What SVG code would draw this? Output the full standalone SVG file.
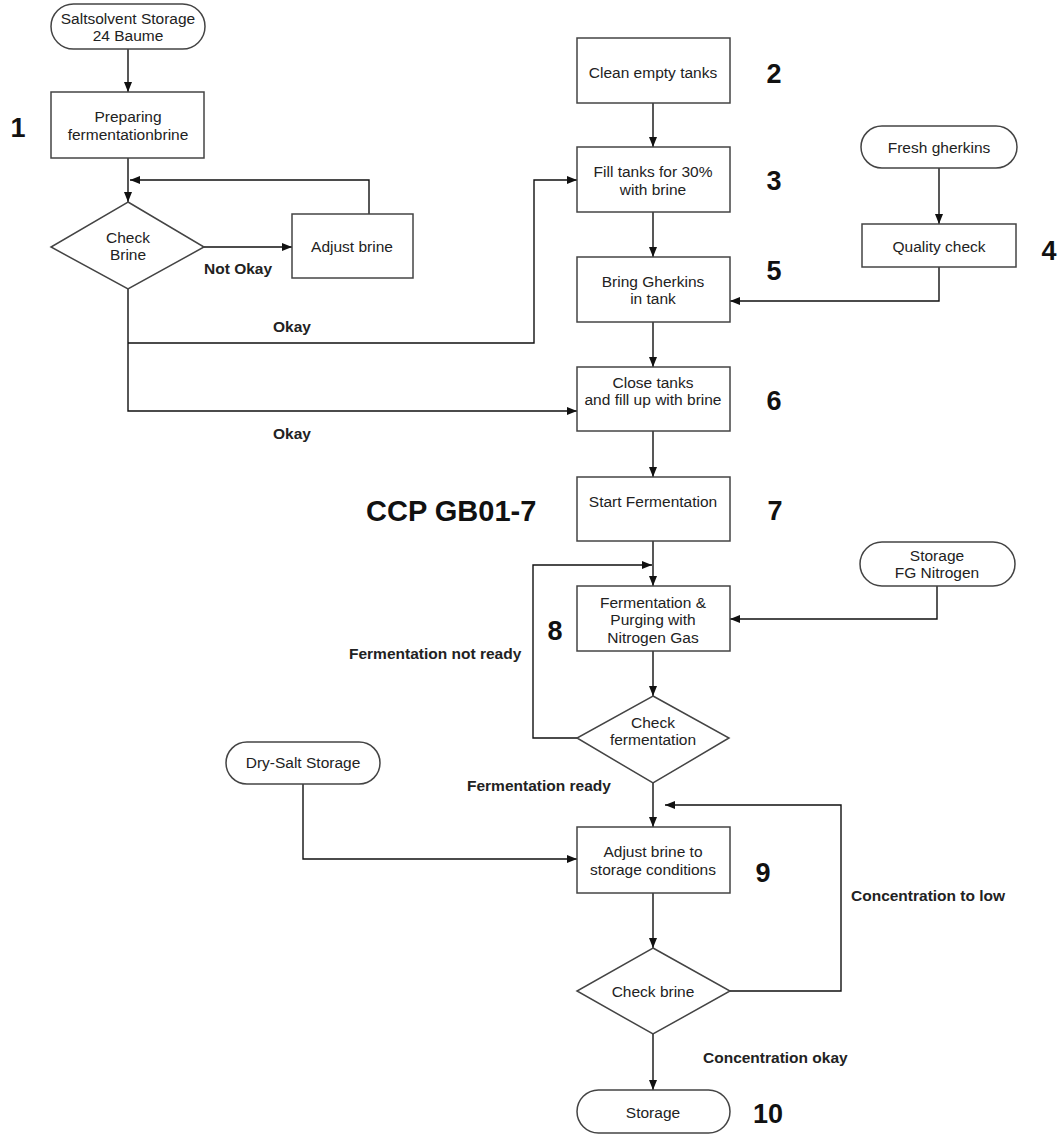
<svg xmlns="http://www.w3.org/2000/svg" width="1059" height="1135" viewBox="0 0 1059 1135">
<defs>
<marker id="ah" markerWidth="10" markerHeight="8" refX="10" refY="4" orient="auto" markerUnits="userSpaceOnUse">
<path d="M0,0 L10,4 L0,8 z" fill="#111"/>
</marker>
<style>
.box{fill:#fff;stroke:#444;stroke-width:1.5}
.t{font-family:"Liberation Sans",Arial,sans-serif;font-size:15.5px;fill:#222;text-anchor:middle}
.lb{font-family:"Liberation Sans",Arial,sans-serif;font-size:15.5px;font-weight:bold;fill:#222}
.num{font-family:"Liberation Sans",Arial,sans-serif;font-size:27px;font-weight:bold;fill:#111;text-anchor:middle}
.c{fill:none;stroke:#111;stroke-width:1.4}
.a{marker-end:url(#ah)}
</style>
</defs>
<rect width="1059" height="1135" fill="#fff"/>

<g id="connectors">
<path class="c a" d="M128,49 V92"/>
<path class="c a" d="M128,158 V202"/>
<path class="c a" d="M369,214 V180 H130"/>
<path class="c a" d="M204,247 H292"/>
<path class="c a" d="M128,289 V411 H577"/>
<path class="c a" d="M128,343 H534 V180 H577"/>
<path class="c a" d="M653,103 V147"/>
<path class="c a" d="M653,212 V257"/>
<path class="c a" d="M939,168 V224"/>
<path class="c a" d="M939,267 V301 H730"/>
<path class="c a" d="M653,322 V367"/>
<path class="c a" d="M653,431 V477"/>
<path class="c a" d="M653,541 V586"/>
<path class="c a" d="M577,738 H533 V565 H652"/>
<path class="c a" d="M937,586 V619 H730"/>
<path class="c a" d="M653,651 V696"/>
<path class="c a" d="M653,783 V827"/>
<path class="c a" d="M303,784 V859 H577"/>
<path class="c a" d="M653,893 V948"/>
<path class="c a" d="M730,991 H841 V805 H665"/>
<path class="c a" d="M653,1034 V1090"/>
</g>

<g id="n_salt"><rect class="box" x="51" y="4" width="154" height="45" rx="22.5"/><text class="t" x="128" y="23.5">Saltsolvent Storage</text><text class="t" x="128" y="40.5">24 Baume</text></g>
<g id="n_prep"><rect class="box" x="51" y="92" width="153" height="66"/><text class="t" x="128" y="121.5">Preparing</text><text class="t" x="128" y="139.5">fermentationbrine</text></g>
<g id="d_check1"><polygon class="box" points="128,202 204,247 128,289 51,247"/><text class="t" x="128" y="242.5">Check</text><text class="t" x="128" y="259.5">Brine</text></g>
<g id="n_adjust"><rect class="box" x="292" y="214" width="121" height="64"/><text class="t" x="352" y="251.5">Adjust brine</text></g>

<g id="n_clean"><rect class="box" x="577" y="38" width="153" height="65"/><text class="t" x="653" y="77.5">Clean empty tanks</text></g>
<g id="n_fill"><rect class="box" x="577" y="147" width="153" height="65"/><text class="t" x="653" y="176.5">Fill tanks for 30%</text><text class="t" x="653" y="194.5">with brine</text></g>
<g id="n_bring"><rect class="box" x="577" y="257" width="153" height="65"/><text class="t" x="653" y="286.5">Bring Gherkins</text><text class="t" x="653" y="303.5">in tank</text></g>
<g id="n_close"><rect class="box" x="577" y="367" width="153" height="64"/><text class="t" x="653" y="387.5">Close tanks</text><text class="t" x="653" y="404.5">and fill up with brine</text></g>
<g id="n_start"><rect class="box" x="577" y="477" width="153" height="64"/><text class="t" x="653" y="506.5">Start Fermentation</text></g>
<g id="n_ferm"><rect class="box" x="577" y="586" width="153" height="65"/><text class="t" x="653" y="607.5">Fermentation &amp;</text><text class="t" x="653" y="624.5">Purging with</text><text class="t" x="653" y="642.5">Nitrogen Gas</text></g>
<g id="d_checkferm"><polygon class="box" points="653,696 729,738 653,783 577,738"/><text class="t" x="653" y="727.5">Check</text><text class="t" x="653" y="744.5">fermentation</text></g>
<g id="n_adjust9"><rect class="box" x="577" y="827" width="153" height="66"/><text class="t" x="653" y="856.5">Adjust brine to</text><text class="t" x="653" y="874.5">storage conditions</text></g>
<g id="d_checkbrine"><polygon class="box" points="653,948 730,991 653,1034 577,991"/><text class="t" x="653" y="996.5">Check brine</text></g>
<g id="n_storage"><rect class="box" x="577" y="1090" width="153" height="43" rx="21.5"/><text class="t" x="653" y="1117.5">Storage</text></g>

<g id="n_fresh"><rect class="box" x="861" y="126" width="156" height="42" rx="21"/><text class="t" x="939" y="152.5">Fresh gherkins</text></g>
<g id="n_quality"><rect class="box" x="862" y="224" width="154" height="43"/><text class="t" x="939" y="251.5">Quality check</text></g>
<g id="n_nitro"><rect class="box" x="860" y="542" width="155" height="44" rx="22"/><text class="t" x="937" y="560.5">Storage</text><text class="t" x="937" y="577.5">FG Nitrogen</text></g>
<g id="n_dry"><rect class="box" x="226" y="742" width="154" height="42" rx="21"/><text class="t" x="303" y="767.5">Dry-Salt Storage</text></g>

<g id="labels">
<text class="lb" x="204" y="273.5">Not Okay</text>
<text class="lb" x="292" y="331.5" text-anchor="middle">Okay</text>
<text class="lb" x="292" y="438.5" text-anchor="middle">Okay</text>
<text class="lb" x="349" y="658.5">Fermentation not ready</text>
<text class="lb" x="467" y="790.5">Fermentation ready</text>
<text class="lb" x="851" y="900.5">Concentration to low</text>
<text class="lb" x="703" y="1062.5">Concentration okay</text>
<text class="num" x="366" y="520.5" style="text-anchor:start;font-size:29px">CCP GB01-7</text>
<text class="num" x="18" y="137">1</text>
<text class="num" x="774" y="83">2</text>
<text class="num" x="774" y="190">3</text>
<text class="num" x="1049" y="260">4</text>
<text class="num" x="774" y="280">5</text>
<text class="num" x="774" y="410">6</text>
<text class="num" x="775" y="520">7</text>
<text class="num" x="555" y="640">8</text>
<text class="num" x="763" y="882">9</text>
<text class="num" x="768" y="1123">10</text>
</g>
</svg>
